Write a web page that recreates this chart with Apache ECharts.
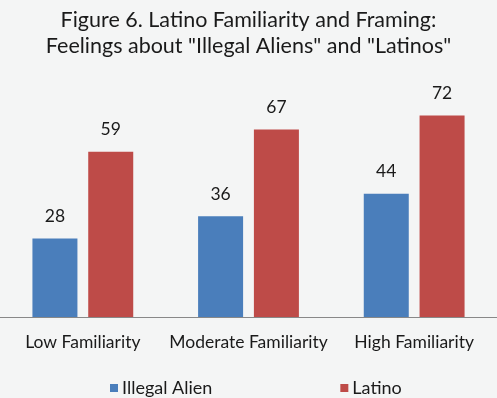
<!DOCTYPE html>
<html><head><meta charset="utf-8">
<script src="https://cdn.jsdelivr.net/npm/echarts@6/dist/echarts.min.js"></script>
<style>html,body{margin:0;padding:0;background:#F4F5F5;}#c{width:497px;height:398px;}</style>
</head><body><div id="c"></div>
<script>
const categories = ["Low Familiarity", "Moderate Familiarity", "High Familiarity"];
const illegalAlien = [28, 36, 44];
const latino = [59, 67, 72];
const seriesNames = ["Illegal Alien", "Latino"];
const FONT = "Lato";
const chart = echarts.init(document.getElementById('c'));
chart.setOption({
  backgroundColor: '#F4F5F5',
  animation: false,
  title: {
    text: 'Figure 6. Latino Familiarity and Framing:\nFeelings about "Illegal Aliens" and "Latinos"',
    left: 'center', top: 2,
    textStyle: {fontFamily: FONT, fontSize: 21.5, fontWeight: 'normal', color: '#1a1a1a', lineHeight: 26}
  },
  legend: {
    data: seriesNames, left: 105, top: 374, itemGap: 128, itemWidth: 8, itemHeight: 8,
    icon: 'rect',
    textStyle: {fontFamily: FONT, fontSize: 18, color: '#1a1a1a', padding: [0,0,0,-1]}
  },
  grid: {left: -2, right: -8, top: 93, bottom: 81, containLabel: false},
  xAxis: {
    type: 'category', data: categories,
    axisLine: {lineStyle: {color: '#888', width: 1}},
    axisTick: {show: false},
    axisLabel: {interval: 0, hideOverlap: false, fontFamily: FONT, fontSize: 17.5, color: '#1a1a1a', margin: 16}
  },
  yAxis: {type: 'value', min: 0, max: 80, show: false, splitLine: {show: false}},
  series: [
    {name: seriesNames[0], type: 'bar', data: illegalAlien, barWidth: 45, barGap: '24%',
     itemStyle: {color: '#4A7EBB'},
     label: {show: true, position: 'top', distance: 13, fontFamily: FONT, fontSize: 17.5, color: '#1a1a1a'}},
    {name: seriesNames[1], type: 'bar', data: latino, barWidth: 45,
     itemStyle: {color: '#BE4B48'},
     label: {show: true, position: 'top', distance: 13, fontFamily: FONT, fontSize: 17.5, color: '#1a1a1a'}}
  ]
});
</script></body></html>
